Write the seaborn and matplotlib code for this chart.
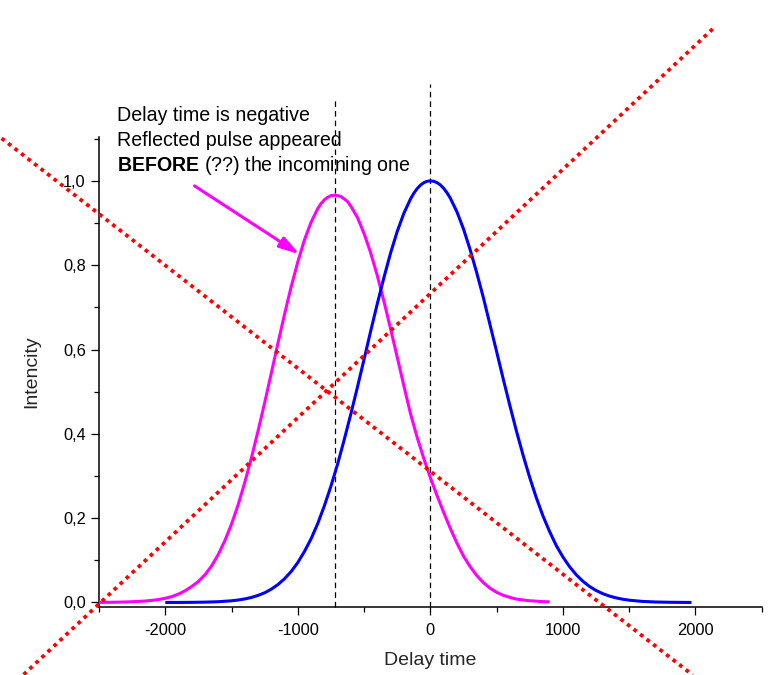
import numpy as np
import pandas as pd
import matplotlib
matplotlib.use("Agg")
import matplotlib.pyplot as plt
import seaborn as sns
from matplotlib.ticker import FuncFormatter, MultipleLocator

# ---------------- data ----------------
incident_delay = [-2000, -1900, -1800, -1700, -1600, -1500, -1450, -1400, -1350, -1300,
                  -1250, -1200, -1150, -1100, -1050, -1000, -950, -900, -850, -800,
                  -750, -700, -650, -600, -550, -500, -450, -400, -350, -300,
                  -250, -200, -150, -125, -100, -75, -50, -25, 0, 25,
                  50, 75, 100, 125, 150, 200, 250, 300, 350, 400,
                  450, 500, 550, 600, 650, 700, 750, 800, 850, 900,
                  950, 1000, 1050, 1100, 1150, 1200, 1250, 1300, 1350, 1400,
                  1450, 1500, 1600, 1700, 1800, 1900, 1970]
incident_intensity = [0.0, 0.0001, 0.0003, 0.0008, 0.0018, 0.0040, 0.0058, 0.0084, 0.0119, 0.0168,
                      0.023, 0.0316, 0.0425, 0.0563, 0.0735, 0.0948, 0.121, 0.151, 0.187, 0.229,
                      0.276, 0.328, 0.386, 0.447, 0.511, 0.577, 0.644, 0.709, 0.771, 0.829,
                      0.880, 0.923, 0.957, 0.9705, 0.9815, 0.9898, 0.9956, 0.999, 1.0, 0.999,
                      0.9959, 0.9904, 0.9825, 0.9721, 0.9594, 0.927, 0.886, 0.837, 0.782, 0.723,
                      0.659, 0.595, 0.530, 0.467, 0.406, 0.349, 0.296, 0.248, 0.205, 0.168,
                      0.135, 0.108, 0.085, 0.066, 0.0505, 0.0382, 0.0285, 0.021, 0.0153, 0.011,
                      0.0078, 0.0054, 0.0025, 0.0011, 0.0005, 0.0002, 0.0001]

reflected_delay = [-2500, -2450, -2400, -2350, -2300, -2250, -2200, -2150, -2100, -2050,
                   -2000, -1950, -1900, -1850, -1800, -1750, -1700, -1650, -1600, -1550,
                   -1500, -1450, -1400, -1350, -1300, -1250, -1200, -1150, -1100, -1050,
                   -1000, -950, -900, -850, -825, -800, -775, -750, -720, -700,
                   -675, -650, -625, -600, -550, -500, -450, -400, -350, -300,
                   -250, -200, -150, -100, -50, 0, 50, 100, 150, 200,
                   250, 300, 350, 400, 450, 500, 550, 600, 650, 700,
                   750, 800, 850, 900]
reflected_intensity = [0.0002, 0.0003, 0.0005, 0.0008, 0.0012, 0.0018, 0.0025, 0.0035, 0.005, 0.007,
                       0.010, 0.014, 0.020, 0.028, 0.038, 0.050, 0.066, 0.087, 0.114, 0.147,
                       0.186, 0.232, 0.285, 0.343, 0.407, 0.474, 0.544, 0.615, 0.684, 0.749,
                       0.808, 0.860, 0.902, 0.934, 0.946, 0.955, 0.961, 0.965, 0.966, 0.965,
                       0.963, 0.957, 0.951, 0.940, 0.913, 0.875, 0.829, 0.775, 0.714, 0.649,
                       0.582, 0.514, 0.448, 0.392, 0.342, 0.296, 0.254, 0.214, 0.176, 0.141,
                       0.110, 0.085, 0.064, 0.047, 0.034, 0.024, 0.017, 0.012, 0.008, 0.006,
                       0.004, 0.003, 0.002, 0.0015]

peak_positions = [-720, 0]
peak_marker_tops = [1.196, 1.229]

cross_a_x = [-3235, 1979]
cross_a_y = [1.101, -0.172]
cross_b_x = [-3069, 2136]
cross_b_y = [-0.171, 1.362]

x_ticks = [-2000, -1000, 0, 1000, 2000]
y_ticks = [0.0, 0.2, 0.4, 0.6, 0.8, 1.0]

note_lines = ["Delay time is negative", "Reflected pulse appeared",
              r"$\bf{BEFORE}$ (??) the incomining one"]
x_label = "Delay time"
y_label = "Intencity"

# ---------------- styling ----------------
sns.set_style("ticks")
plt.rcParams['font.family'] = ['Liberation Sans', 'DejaVu Sans']
plt.rcParams['mathtext.fontset'] = 'custom'
plt.rcParams['mathtext.rm'] = 'Liberation Sans'
plt.rcParams['mathtext.bf'] = 'Liberation Sans:bold'

df = pd.concat([
    pd.DataFrame({"delay": reflected_delay, "intensity": reflected_intensity, "series": "reflected"}),
    pd.DataFrame({"delay": incident_delay, "intensity": incident_intensity, "series": "incident"}),
], ignore_index=True)

fig = plt.figure(figsize=(7.7, 6.75), dpi=100)
ax = fig.add_axes([0.1286, 0.1012, 0.8606, 0.6958])

sns.lineplot(data=df, x="delay", y="intensity", hue="series",
             palette={"reflected": "#FF00FF", "incident": "#0000FF"},
             linewidth=2.2, legend=False, sort=False, estimator=None, ax=ax, zorder=3)
for ln in ax.lines:
    ln.set_solid_joinstyle("round")
    ln.set_solid_capstyle("butt")

# vertical dashed peak markers
for xp, top in zip(peak_positions, peak_marker_tops):
    ax.plot([xp, xp], [-0.01, top], color="black", lw=0.9, dashes=(4.5, 3.2),
            clip_on=False, zorder=2)

# red dotted crossing lines
for xs, ys in ((cross_a_x, cross_a_y), (cross_b_x, cross_b_y)):
    ax.plot(xs, ys, color="#FF0000", lw=2.7, dashes=(1.0, 1.2),
            clip_on=False, zorder=5)

# annotation text
for i, line in enumerate(note_lines):
    ax.text(-2361, 1.143 - i * 0.0597, line, fontsize=14.1, ha="left", va="baseline",
            color="black", clip_on=False)

ax.annotate("", xy=(-987, 0.826), xytext=(-1779, 0.988),
            arrowprops=dict(arrowstyle="-|>,head_length=1.2,head_width=0.35",
                            color="#FF00FF", lw=2.2, shrinkA=0, shrinkB=0),
            annotation_clip=False, zorder=4)

ax.set_xlim(-2500, 2500)
ax.set_ylim(-0.01, 1.104)
ax.set_xticks(x_ticks)
ax.set_yticks(y_ticks)
ax.xaxis.set_minor_locator(MultipleLocator(500))
ax.yaxis.set_minor_locator(MultipleLocator(0.1))
ax.yaxis.set_major_formatter(FuncFormatter(lambda v, p: f"{v:.1f}".replace(".", ",")))
ax.xaxis.set_major_formatter(FuncFormatter(lambda v, p: f"{int(round(v))}"))

ax.tick_params(which="major", length=6, width=0.9, direction="out", labelsize=11.8,
               colors="black")
ax.tick_params(axis="y", which="major", pad=3.5)
ax.tick_params(axis="x", which="major", pad=6)
ax.tick_params(which="minor", length=3.5, width=0.9, direction="out", colors="black")
for side in ("top", "right"):
    ax.spines[side].set_visible(False)
for side in ("left", "bottom"):
    ax.spines[side].set_linewidth(1.1)
    ax.spines[side].set_color("black")

ax.set_xlabel(x_label, fontsize=14, labelpad=10)
ax.set_ylabel(y_label, fontsize=14, labelpad=16)

fig.savefig("out.png", dpi=100)
